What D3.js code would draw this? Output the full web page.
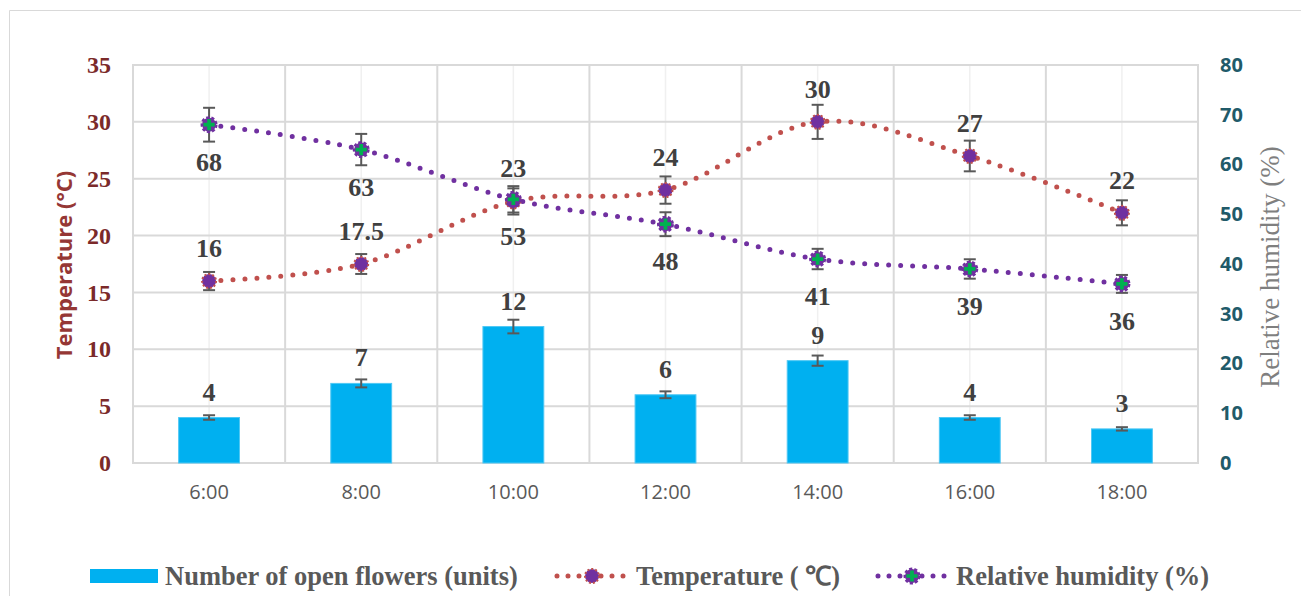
<!DOCTYPE html>
<html>
<head>
<meta charset="utf-8">
<script src="https://cdn.jsdelivr.net/npm/d3@7"></script>
<style>
  html, body { margin: 0; padding: 0; background: #fff; }
  svg { display: block; }
</style>
</head>
<body>
<svg id="chart" width="1301" height="596"></svg>
<script>
// Flowering vs temperature / humidity over the day

const hours = ["6:00", "8:00", "10:00", "12:00", "14:00", "16:00", "18:00"];
const flowers = [4, 7, 12, 6, 9, 4, 3];
const flowersErr = [0.2, 0.35, 0.6, 0.3, 0.45, 0.2, 0.15];
const temperature = [16, 17.5, 23, 24, 30, 27, 22];
const temperatureErr = [0.8, 0.875, 1.15, 1.2, 1.5, 1.35, 1.1];
const humidity = [68, 63, 53, 48, 41, 39, 36];
const humidityErr = [3.4, 3.15, 2.65, 2.4, 2.05, 1.95, 1.8];
const leftTicks = [0, 5, 10, 15, 20, 25, 30, 35];
const rightTicks = [0, 10, 20, 30, 40, 50, 60, 70, 80];

const svg = d3.select("#chart");
const m = { left: 133, right: 1198, top: 65, bottom: 463 };

const x = d3.scaleBand().domain(hours).range([m.left, m.right]).paddingInner(0).paddingOuter(0);
const yL = d3.scaleLinear().domain([0, 35]).range([m.bottom, m.top]);
const yR = d3.scaleLinear().domain([0, 80]).range([m.bottom, m.top]);
const cx = d => x(d) + x.bandwidth() / 2;

// outer chart border (only left + top are inside the frame)
svg.append("path")
  .attr("d", "M9.5,600 V10.5 H1310")
  .attr("fill", "none").attr("stroke", "#d9d9d9").attr("stroke-width", 1);

// ---------- grid ----------
const grid = svg.append("g");
grid.selectAll("line.vc")
  .data(hours).enter().append("line")
  .attr("x1", cx).attr("x2", cx)
  .attr("y1", m.top).attr("y2", m.bottom)
  .attr("stroke", "#f0f0f0").attr("stroke-width", 1.5);

grid.selectAll("line.vb")
  .data(hours.slice(1)).enter().append("line")
  .attr("x1", d => x(d)).attr("x2", d => x(d))
  .attr("y1", m.top).attr("y2", m.bottom)
  .attr("stroke", "#d9d9d9").attr("stroke-width", 2);

grid.selectAll("line.h")
  .data(leftTicks).enter().append("line")
  .attr("x1", m.left).attr("x2", m.right)
  .attr("y1", d => yL(d)).attr("y2", d => yL(d))
  .attr("stroke", "#d9d9d9").attr("stroke-width", 2);

grid.append("rect")
  .attr("x", m.left).attr("y", m.top)
  .attr("width", m.right - m.left).attr("height", m.bottom - m.top)
  .attr("fill", "none").attr("stroke", "#d9d9d9").attr("stroke-width", 2);

// ---------- axes ----------
const leftAxis = svg.append("g")
  .attr("transform", `translate(${m.left},0)`)
  .call(d3.axisLeft(yL).tickValues(leftTicks).tickSize(0).tickPadding(22));
leftAxis.select(".domain").remove();
leftAxis.selectAll("text")
  .attr("font-family", "'Liberation Serif', serif")
  .attr("font-weight", "bold").attr("font-size", 24)
  .attr("fill", "#7b2a2a");

const rightAxis = svg.append("g")
  .attr("transform", `translate(${m.right},0)`)
  .call(d3.axisRight(yR).tickValues(rightTicks).tickSize(0).tickPadding(22));
rightAxis.select(".domain").remove();
rightAxis.selectAll("text")
  .attr("font-family", "'Open Sans', sans-serif")
  .attr("font-weight", "bold").attr("font-size", 20)
  .attr("fill", "#215a69");

const bottomAxis = svg.append("g")
  .attr("transform", `translate(0,${m.bottom})`)
  .call(d3.axisBottom(x).tickSize(0).tickPadding(22));
bottomAxis.select(".domain").remove();
bottomAxis.selectAll("text")
  .attr("font-family", "'Open Sans', sans-serif")
  .attr("font-size", 20)
  .attr("fill", "#595959");

svg.append("text")
  .attr("transform", "translate(72,265) rotate(-90)")
  .attr("text-anchor", "middle")
  .attr("font-family", "'Open Sans', sans-serif")
  .attr("font-weight", "bold").attr("font-size", 22)
  .attr("fill", "#953735")
  .text("Temperature (°C)");

svg.append("text")
  .attr("transform", "translate(1279,267) rotate(-90)")
  .attr("text-anchor", "middle")
  .attr("font-family", "'Liberation Serif', serif")
  .attr("font-size", 27)
  .attr("fill", "#7f7f7f")
  .text("Relative humidity (%)");

// ---------- bars ----------
const barW = x.bandwidth() * 0.4;
const bars = svg.append("g");
bars.selectAll("rect")
  .data(flowers).enter().append("rect")
  .attr("x", (d, i) => cx(hours[i]) - barW / 2)
  .attr("y", d => yL(d))
  .attr("width", barW)
  .attr("height", d => yL(0) - yL(d))
  .attr("fill", "#00b0f0")
  .attr("stroke", "#4fc8f4").attr("stroke-width", 1);

// error bar helper
function errorBars(g, vals, errs, scale) {
  vals.forEach((v, i) => {
    const px = cx(hours[i]);
    const y1 = scale(v - errs[i]), y2 = scale(v + errs[i]);
    g.append("line").attr("x1", px).attr("x2", px).attr("y1", y1).attr("y2", y2);
    g.append("line").attr("x1", px - 6).attr("x2", px + 6).attr("y1", y1).attr("y2", y1);
    g.append("line").attr("x1", px - 6).attr("x2", px + 6).attr("y1", y2).attr("y2", y2);
  });
}

const barErr = svg.append("g").attr("stroke", "#595959").attr("stroke-width", 2);
errorBars(barErr, flowers, flowersErr, yL);

const labelFont = g => g
  .attr("font-family", "'Liberation Serif', serif")
  .attr("font-weight", "bold").attr("font-size", 26)
  .attr("fill", "#404040").attr("text-anchor", "middle");

svg.append("g").call(labelFont)
  .selectAll("text").data(flowers).enter().append("text")
  .attr("x", (d, i) => cx(hours[i]))
  .attr("y", d => yL(d) - 17)
  .text(d => d);

// ---------- lines ----------
const lineT = d3.line().x((d, i) => cx(hours[i])).y(d => yL(d)).curve(d3.curveCardinal.tension(0));
const lineH = d3.line().x((d, i) => cx(hours[i])).y(d => yR(d)).curve(d3.curveCardinal.tension(0));

svg.append("path")
  .attr("d", lineT(temperature))
  .attr("fill", "none").attr("stroke", "#c0504d")
  .attr("stroke-width", 5).attr("stroke-linecap", "round")
  .attr("stroke-dasharray", "0 12");

svg.append("path")
  .attr("d", lineH(humidity))
  .attr("fill", "none").attr("stroke", "#7030a0")
  .attr("stroke-width", 5).attr("stroke-linecap", "round")
  .attr("stroke-dasharray", "0 12");

// markers
function tempMarker(g, px, py) {
  g.append("circle").attr("cx", px).attr("cy", py).attr("r", 7)
    .attr("fill", "#7030a0").attr("stroke", "#c0504d")
    .attr("stroke-width", 2).attr("stroke-dasharray", "2 2");
}

function humMarker(g, px, py) {
  g.append("circle").attr("cx", px).attr("cy", py).attr("r", 7)
    .attr("fill", "#7030a0").attr("stroke", "#7030a0")
    .attr("stroke-width", 3).attr("stroke-dasharray", "3 2");
  g.append("path")
    .attr("d", d3.symbol(d3.symbolCross, 70)())
    .attr("transform", `translate(${px},${py})`)
    .attr("fill", "#00b050");
}

const tErr = svg.append("g").attr("stroke", "#595959").attr("stroke-width", 2);
errorBars(tErr, temperature, temperatureErr, yL);
const hErr = svg.append("g").attr("stroke", "#595959").attr("stroke-width", 2);
errorBars(hErr, humidity, humidityErr, yR);

const tMarks = svg.append("g");
temperature.forEach((v, i) => tempMarker(tMarks, cx(hours[i]), yL(v)));
const hMarks = svg.append("g");
humidity.forEach((v, i) => humMarker(hMarks, cx(hours[i]), yR(v)));

svg.append("g").call(labelFont)
  .selectAll("text").data(temperature).enter().append("text")
  .attr("x", (d, i) => cx(hours[i]))
  .attr("y", d => yL(d) - 24)
  .text(d => d);

svg.append("g").call(labelFont)
  .selectAll("text").data(humidity).enter().append("text")
  .attr("x", (d, i) => cx(hours[i]))
  .attr("y", d => yR(d) + 46)
  .text(d => d);

// ---------- legend ----------
const legend = svg.append("g");
const legendText = g => g
  .attr("font-family", "'Liberation Serif', serif")
  .attr("font-weight", "bold").attr("font-size", 26.5)
  .attr("fill", "#595959");

legend.append("rect").attr("x", 90).attr("y", 569).attr("width", 68).attr("height", 14).attr("fill", "#00b0f0");
legend.append("text").call(legendText).attr("x", 165).attr("y", 585).text("Number of open flowers (units)");

legend.append("line").attr("x1", 557).attr("x2", 624).attr("y1", 576).attr("y2", 576)
  .attr("stroke", "#c0504d").attr("stroke-width", 5).attr("stroke-linecap", "round").attr("stroke-dasharray", "0 11");
tempMarker(legend, 592, 576);
legend.append("text").call(legendText).attr("x", 636).attr("y", 585).text("Temperature ( ℃)");

legend.append("line").attr("x1", 878).attr("x2", 945).attr("y1", 576).attr("y2", 576)
  .attr("stroke", "#7030a0").attr("stroke-width", 5).attr("stroke-linecap", "round").attr("stroke-dasharray", "0 11");
humMarker(legend, 912, 576);
legend.append("text").call(legendText).attr("x", 956).attr("y", 585).text("Relative humidity (%)");
</script>
</body>
</html>
